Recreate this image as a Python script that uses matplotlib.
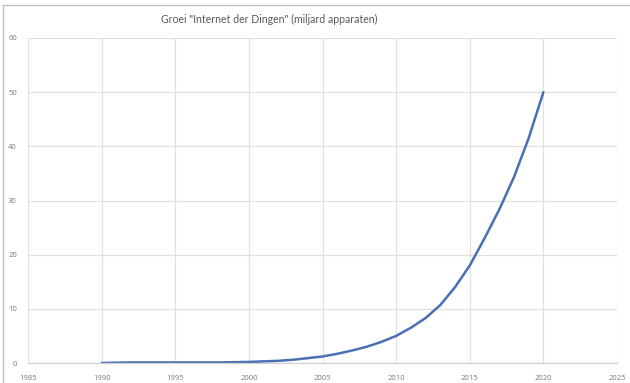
import matplotlib
matplotlib.use("Agg")
import matplotlib.pyplot as plt
from matplotlib.lines import Line2D

years = [1990, 1991, 1992, 1993, 1994, 1995, 1996, 1997, 1998, 1999,
         2000, 2001, 2002, 2003, 2004, 2005, 2006, 2007, 2008, 2009,
         2010, 2011, 2012, 2013, 2014, 2015, 2016, 2017, 2018, 2019, 2020]
devices = [0.0, 0.05, 0.1, 0.1, 0.1, 0.1, 0.1, 0.1, 0.1, 0.15,
           0.2, 0.3, 0.4, 0.6, 0.9, 1.2, 1.7, 2.3, 3.0, 3.9,
           5.0, 6.5, 8.3, 10.7, 14.0, 18.0, 23.0, 28.3, 34.3, 41.5, 50.0]
x_ticks = [1985, 1990, 1995, 2000, 2005, 2010, 2015, 2020, 2025]
y_ticks = [0, 10, 20, 30, 40, 50, 60]
title = 'Groei "Internet der Dingen" (miljard apparaten)'

plt.rcParams['font.family'] = ['Open Sans', 'DejaVu Sans']

W, H = 630, 383
fig = plt.figure(figsize=(W / 100, H / 100), dpi=100)
fig.patch.set_facecolor('white')

ax = fig.add_axes([28 / W, 1 - 363 / H, (617 - 28) / W, (363 - 38) / H])
ax.plot(years, devices, color='#4a6fb3', linewidth=1.8, solid_capstyle='round',
        solid_joinstyle='round')
ax.set_xlim(1985, 2025)
ax.set_ylim(0, 60)
ax.set_xticks(x_ticks)
ax.set_yticks(y_ticks)
ax.set_xticklabels([str(v) for v in x_ticks])
ax.set_yticklabels([str(v) for v in y_ticks])
ax.grid(True, color='#e0e0e0', linewidth=0.9)
ax.set_axisbelow(True)
for side in ['top', 'right', 'left']:
    ax.spines[side].set_visible(False)
ax.spines['bottom'].set_color('#d0d0d0')
ax.spines['bottom'].set_linewidth(0.9)
ax.tick_params(length=0, labelsize=5.5, labelcolor='#7a7a7a')
ax.tick_params(axis='x', pad=9)
ax.tick_params(axis='y', pad=8)

fig.text(269 / W, 1 - 19 / H, title, ha='center', va='center',
         fontsize=7.6, color='#595959', family=['Lato', 'DejaVu Sans'])

# outer chart border (left and top visible)
fig.add_artist(Line2D([2.5 / W, 2.5 / W], [0, 1 - 5 / H], transform=fig.transFigure,
                      color='#bdbdbd', linewidth=0.9))
fig.add_artist(Line2D([2.5 / W, 1], [1 - 5 / H, 1 - 5 / H], transform=fig.transFigure,
                      color='#bdbdbd', linewidth=0.9))

fig.savefig('out.png', dpi=100, facecolor='white')
